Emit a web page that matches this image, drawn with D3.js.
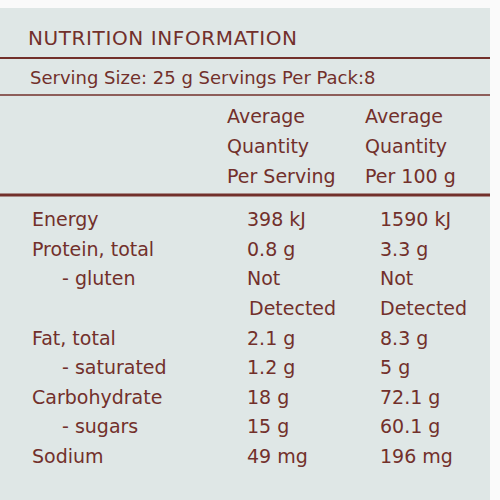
<!DOCTYPE html><html><head><meta charset="utf-8"><script src="https://cdn.jsdelivr.net/npm/d3@7"></script>
<style>body{margin:0;background:#fff}</style></head><body><script>
const nutrients=["Energy","Protein, total","- gluten","","Fat, total","- saturated","Carbohydrate","- sugars","Sodium"];
const indent=[0,0,1,0,0,1,0,1,0];
const perServing=["398 kJ","0.8 g","Not","Detected","2.1 g","1.2 g","18 g","15 g","49 mg"];
const per100g=["1590 kJ","3.3 g","Not","Detected","8.3 g","5 g","72.1 g","60.1 g","196 mg"];
const headers1=["Average","Quantity","Per Serving"];
const headers2=["Average","Quantity","Per 100 g"];
const col="#72302b";
const svg=d3.select("body").append("svg").attr("width",500).attr("height",500);
svg.append("rect").attr("width",500).attr("height",500).attr("fill","#fafafa");
svg.append("rect").attr("x",0).attr("y",8).attr("width",490).attr("height",492).attr("fill","#dfe7e6");
const f="'DejaVu Sans',sans-serif";
svg.append("text").attr("x",28).attr("y",45).attr("fill",col).attr("font-family",f).attr("font-size",20).attr("letter-spacing",0.6).text("NUTRITION INFORMATION");
const lines=[[58,2],[95,1.5],[195,3]];
lines.forEach(([y,w])=>svg.append("line").attr("x1",0).attr("x2",490).attr("y1",y).attr("y2",y).attr("stroke",col).attr("stroke-width",w));
svg.append("text").attr("x",30).attr("y",84).attr("fill",col).attr("font-family",f).attr("font-size",18).text("Serving Size: 25 g  Servings Per Pack:8");
const hy=d3.scalePoint().domain(d3.range(3)).range([123,183]);
[[headers1,227],[headers2,365]].forEach(([h,x])=>svg.selectAll(null).data(h).join("text").attr("x",x).attr("y",(d,i)=>hy(i)).attr("fill",col).attr("font-family",f).attr("font-size",19).text(d=>d));
const y=d3.scalePoint().domain(d3.range(nutrients.length)).range([226,463]);
const g=svg.append("g").attr("fill",col).attr("font-family",f).attr("font-size",19);
g.selectAll(".a").data(nutrients).join("text").attr("x",(d,i)=>indent[i]?62:32).attr("y",(d,i)=>y(i)).text(d=>d);
g.selectAll(".b").data(perServing).join("text").attr("x",(d,i)=>i==3?249:247).attr("y",(d,i)=>y(i)).text(d=>d);
g.selectAll(".c").data(per100g).join("text").attr("x",380).attr("y",(d,i)=>y(i)).text(d=>d);
</script></body></html>
